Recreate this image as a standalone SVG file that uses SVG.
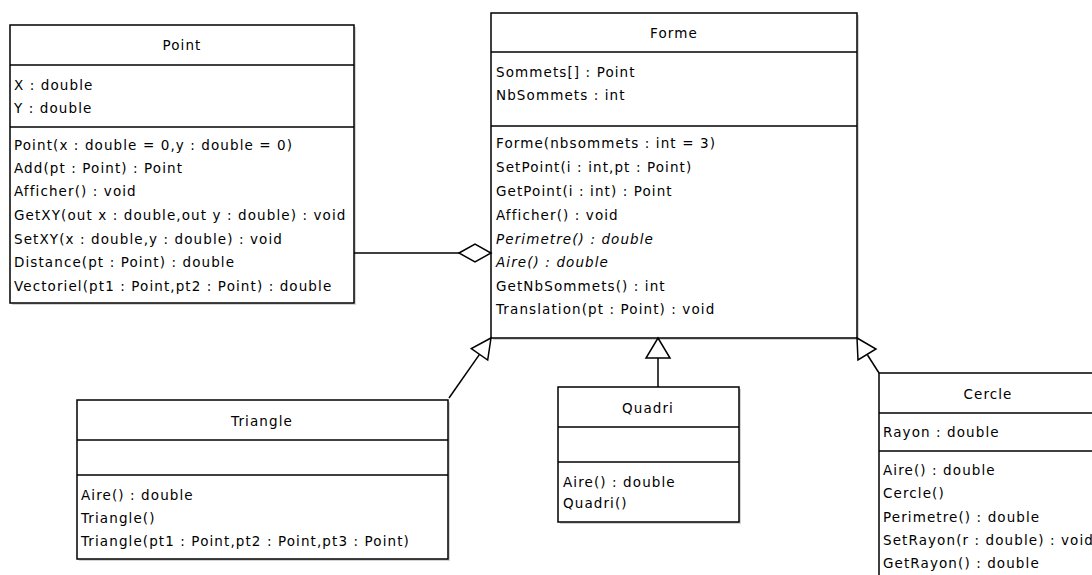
<svg xmlns="http://www.w3.org/2000/svg" width="1092" height="575" viewBox="0 0 1092 575">
<style>
.box{fill:#fff;stroke:#000;stroke-width:1.5}
.sh{fill:#aaa;opacity:0.5}
.sep{stroke:#000;stroke-width:1.5}
.t{font-family:"DejaVu Sans",sans-serif;font-size:13.5px;letter-spacing:1.1px;fill:#000}
.c{text-anchor:middle}
.i{font-style:italic}
.ln{fill:none;stroke:#000;stroke-width:1.5}
.hd{fill:#fff;stroke:#000;stroke-width:1.5}
</style>
<rect width="1092" height="575" fill="#fff"/>
<g id="Point">
<rect class="sh" x="12" y="27" width="344" height="278"/>
<rect class="box" x="10" y="25" width="344" height="278"/>
<line class="sep" x1="10" y1="65" x2="354" y2="65"/>
<line class="sep" x1="10" y1="127" x2="354" y2="127"/>
<text class="t c" x="182" y="50">Point</text>
<text class="t" x="14" y="90">X : double</text>
<text class="t" x="14" y="113">Y : double</text>
<text class="t" x="14" y="150">Point(x : double = 0,y : double = 0)</text>
<text class="t" x="14" y="173">Add(pt : Point) : Point</text>
<text class="t" x="14" y="196">Afficher() : void</text>
<text class="t" x="14" y="220">GetXY(out x : double,out y : double) : void</text>
<text class="t" x="14" y="244">SetXY(x : double,y : double) : void</text>
<text class="t" x="14" y="267">Distance(pt : Point) : double</text>
<text class="t" x="14" y="291">Vectoriel(pt1 : Point,pt2 : Point) : double</text>
</g>
<g id="Forme">
<rect class="sh" x="493" y="15" width="366" height="325"/>
<rect class="box" x="491" y="13" width="366" height="325"/>
<line class="sep" x1="491" y1="52" x2="857" y2="52"/>
<line class="sep" x1="491" y1="126" x2="857" y2="126"/>
<text class="t c" x="674" y="38">Forme</text>
<text class="t" x="496" y="77">Sommets[] : Point</text>
<text class="t" x="496" y="100">NbSommets : int</text>
<text class="t" x="496" y="148">Forme(nbsommets : int = 3)</text>
<text class="t" x="496" y="172">SetPoint(i : int,pt : Point)</text>
<text class="t" x="496" y="196">GetPoint(i : int) : Point</text>
<text class="t" x="496" y="220">Afficher() : void</text>
<text class="t i" x="496" y="244">Perimetre() : double</text>
<text class="t i" x="496" y="267">Aire() : double</text>
<text class="t" x="496" y="291">GetNbSommets() : int</text>
<text class="t" x="496" y="314">Translation(pt : Point) : void</text>
</g>
<g id="Triangle">
<rect class="sh" x="79" y="402" width="371" height="159"/>
<rect class="box" x="77" y="400" width="371" height="159"/>
<line class="sep" x1="77" y1="440" x2="448" y2="440"/>
<line class="sep" x1="77" y1="475" x2="448" y2="475"/>
<text class="t c" x="262" y="426">Triangle</text>
<text class="t" x="81" y="500">Aire() : double</text>
<text class="t" x="81" y="523">Triangle()</text>
<text class="t" x="81" y="546">Triangle(pt1 : Point,pt2 : Point,pt3 : Point)</text>
</g>
<g id="Quadri">
<rect class="sh" x="560" y="389" width="181" height="135"/>
<rect class="box" x="558" y="387" width="181" height="135"/>
<line class="sep" x1="558" y1="427" x2="739" y2="427"/>
<line class="sep" x1="558" y1="462" x2="739" y2="462"/>
<text class="t c" x="648" y="413">Quadri</text>
<text class="t" x="563" y="487">Aire() : double</text>
<text class="t" x="563" y="508">Quadri()</text>
</g>
<g id="Cercle">
<rect class="sh" x="881" y="375" width="218" height="210"/>
<rect class="box" x="879" y="373" width="218" height="210"/>
<line class="sep" x1="879" y1="413" x2="1097" y2="413"/>
<line class="sep" x1="879" y1="451" x2="1097" y2="451"/>
<text class="t c" x="988" y="399">Cercle</text>
<text class="t" x="883" y="437">Rayon : double</text>
<text class="t" x="883" y="475">Aire() : double</text>
<text class="t" x="883" y="498">Cercle()</text>
<text class="t" x="883" y="522">Perimetre() : double</text>
<text class="t" x="883" y="545">SetRayon(r : double) : void</text>
<text class="t" x="883" y="568">GetRayon() : double</text>
</g>
<g id="connectors">
<line class="ln" x1="354" y1="253" x2="459" y2="253"/>
<polygon class="hd" points="459,253 475,244 491,253 475,262"/>
<line class="ln" x1="449" y1="398" x2="479.5" y2="354.4"/>
<polygon class="hd" points="491,338 487.7,360 471.3,348.7"/>
<line class="ln" x1="658" y1="387" x2="658" y2="358"/>
<polygon class="hd" points="658,338 670,358 646,358"/>
<line class="ln" x1="879" y1="373" x2="867.5" y2="355"/>
<polygon class="hd" points="857,338 876,349 858,360"/>
</g>
</svg>
